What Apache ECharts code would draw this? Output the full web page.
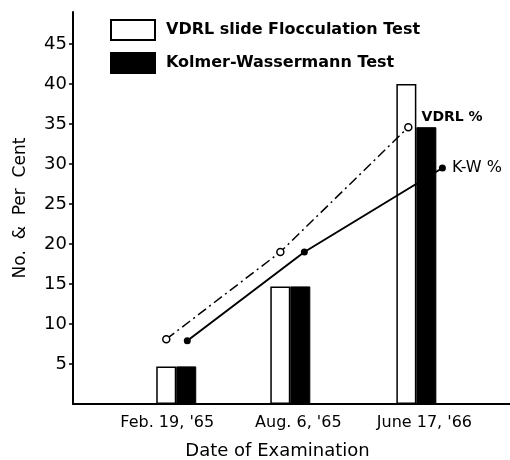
<!DOCTYPE html>
<html lang="en">
  <head>
    <meta charset="UTF-8" />
    <title>VDRL vs Kolmer-Wassermann</title>
    <script src="https://cdn.jsdelivr.net/npm/echarts/dist/echarts.min.js"></script>
    <style>
      html, body { margin: 0; padding: 0; background: #fff; }
    </style>
  </head>
  <body>
    <div id="chart" style="width: 510px; height: 460px"></div>
    <script>
      // dates on a numeric x axis (hand-drawn spacing)
      var dates = ["Feb. 19, '65", "Aug. 6, '65", "June 17, '66"];
      var dateX = [1, 1.95, 3];
      var labelX = [0.925, 2.017, 3.067];

      // bars: numbers
      var vdrlNo = [4.7, 14.7, 40];
      var kwNo = [4.7, 14.7, 34.6];

      // lines: per cent (points sit a little off the bar centres)
      var vdrlPctX = [0.917, 1.867, 2.933];
      var vdrlPct = [8.1, 19, 34.6];
      var kwPctX = [1.092, 2.067, 3.217];
      var kwPct = [7.9, 19, 29.5];

      var font = "DejaVu Sans";

      function pairs(xs, ys) {
        return xs.map(function (x, i) { return [x, ys[i]]; });
      }

      var chart = echarts.init(document.getElementById("chart"));
      var option = {
        animation: false,
        backgroundColor: "#fff",
        textStyle: { fontFamily: font, color: "#000" },
        grid: { left: 73, right: 0, top: 12, bottom: 56, outerBoundsMode: "none" },
        legend: {
          orient: "vertical",
          left: 105,
          top: 14,
          icon: "rect",
          itemWidth: 44,
          itemHeight: 20,
          itemGap: 11,
          data: ["VDRL slide Flocculation Test", "Kolmer-Wassermann Test"],
          textStyle: { fontFamily: font, fontSize: 16, fontWeight: "bold", color: "#000", padding: [0, 0, 0, 6] },
        },
        xAxis: {
          type: "value",
          min: 0.14,
          max: 3.78,
          splitLine: { show: false },
          axisLine: { show: true, lineStyle: { color: "#000", width: 2 } },
          axisTick: { show: false },
          axisLabel: {
            customValues: labelX,
            fontFamily: font,
            fontSize: 16,
            color: "#000",
            margin: 11,
            formatter: function (v) {
              var i = labelX.indexOf(v);
              return i >= 0 ? dates[i] : "";
            },
          },
          name: "Date of Examination",
          nameLocation: "middle",
          nameGap: 38,
          nameTextStyle: { fontFamily: font, fontSize: 18, color: "#000", padding: [0, 28, 0, 0] },
        },
        yAxis: {
          type: "value",
          min: 0,
          max: 49,
          interval: 5,
          splitLine: { show: false },
          axisLine: { show: true, lineStyle: { color: "#000", width: 2 } },
          axisTick: { show: true, length: 4, lineStyle: { color: "#000", width: 1.5 } },
          axisLabel: {
            showMinLabel: false,
            showMaxLabel: false,
            fontFamily: font,
            fontSize: 18,
            color: "#000",
            margin: 6,
          },
          name: "No.  &  Per  Cent",
          nameLocation: "middle",
          nameGap: 44,
          nameTextStyle: { fontFamily: font, fontSize: 17, color: "#000" },
        },
        series: [
          {
            name: "VDRL slide Flocculation Test",
            type: "bar",
            z: 2,
            barWidth: 20,
            barGap: "0%",
            data: pairs(dateX, vdrlNo),
            itemStyle: { color: "#fff", borderColor: "#000", borderWidth: 1.5 },
          },
          {
            name: "Kolmer-Wassermann Test",
            type: "bar",
            z: 5,
            barWidth: 20,
            barGap: "0%",
            data: pairs(dateX, kwNo),
            itemStyle: { color: "#000", borderColor: "#000", borderWidth: 1 },
          },
          {
            name: "VDRL %",
            type: "line",
            z: 3,
            data: pairs(vdrlPctX, vdrlPct),
            symbol: "circle",
            symbolSize: 7,
            itemStyle: { color: "#fff", borderColor: "#000", borderWidth: 1.5 },
            lineStyle: { color: "#000", width: 1.5, type: [10, 4, 2, 4] },
            label: {
              show: true,
              position: "right",
              offset: [4, -10],
              fontFamily: font,
              fontSize: 14,
              fontWeight: "bold",
              color: "#000",
              formatter: function (p) { return p.dataIndex === vdrlPct.length - 1 ? "VDRL %" : ""; },
            },
          },
          {
            name: "K-W %",
            type: "line",
            z: 3,
            data: pairs(kwPctX, kwPct),
            symbol: "circle",
            symbolSize: 7,
            itemStyle: { color: "#000" },
            lineStyle: { color: "#000", width: 2 },
            label: {
              show: true,
              position: "right",
              distance: 6,
              fontFamily: font,
              fontSize: 16,
              color: "#000",
              formatter: function (p) { return p.dataIndex === kwPct.length - 1 ? "K-W %" : ""; },
            },
          },
        ],
      };
      chart.setOption(option);
    </script>
  </body>
</html>
